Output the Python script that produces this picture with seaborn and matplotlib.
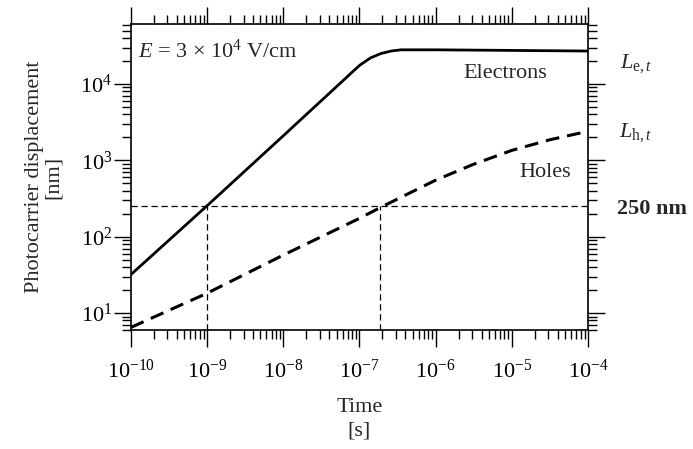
import numpy as np
import pandas as pd
import matplotlib
matplotlib.use("Agg")
import matplotlib.pyplot as plt
from matplotlib.ticker import LogLocator, NullFormatter
import seaborn as sns

# ---- data ----
e_time = [1e-10, 1e-9, 1e-8, 1e-7, 1.4e-7, 1.9e-7, 2.6e-7, 3.5e-7, 1e-6, 1e-5, 1e-4]
e_disp = [32, 255, 2100, 17500, 22000, 25000, 27000, 28000, 28000, 27500, 27000]

h_time = [1e-10, 1e-9, 1e-8, 1e-7, 1.86e-7, 1e-6, 3.16e-6, 1e-5, 3.16e-5, 1e-4]
h_disp = [6.5, 18.2, 57.5, 174, 240, 550, 890, 1350, 1860, 2400]

ref_disp = 250
ref_times = [1e-9, 1.85e-7]

xticks = [1e-10, 1e-9, 1e-8, 1e-7, 1e-6, 1e-5, 1e-4]
yticks = [1e1, 1e2, 1e3, 1e4]

sns.set_theme(style="ticks")
plt.rcParams["font.family"] = ["Liberation Serif", "DejaVu Serif"]
plt.rcParams["mathtext.fontset"] = "custom"
plt.rcParams["mathtext.rm"] = "Liberation Serif"
plt.rcParams["mathtext.it"] = "Liberation Serif:italic"
plt.rcParams["mathtext.bf"] = "Liberation Serif:bold"

W, H = 693, 449
fig = plt.figure(figsize=(W / 100, H / 100), dpi=100)
ax = fig.add_axes([131 / W, 1 - 330 / H, (588 - 131) / W, (330 - 24) / H])

df_e = pd.DataFrame({"t": e_time, "d": e_disp})
df_h = pd.DataFrame({"t": h_time, "d": h_disp})

sns.lineplot(data=df_e, x="t", y="d", ax=ax, color="black", linewidth=2.0,
             estimator=None, sort=True)
sns.lineplot(data=df_h, x="t", y="d", ax=ax, color="black", linewidth=2.2,
             estimator=None, sort=True, linestyle=(0, (4.5, 2.6)))

ax.set_xscale("log")
ax.set_yscale("log")
ax.set_xlim(1e-10, 1e-4)
ax.set_ylim(6.0, 6.1e4)

# reference lines
ax.hlines(ref_disp, 1e-10, 1e-4, colors="black", linewidth=0.9,
          linestyles=(0, (5, 3)))
ax.vlines(ref_times, 6.0, ref_disp, colors="black", linewidth=0.9,
          linestyles=(0, (5, 3)))

ax.set_xticks(xticks)
ax.set_yticks(yticks)
ax.xaxis.set_minor_locator(LogLocator(base=10, subs=np.arange(2, 10), numticks=100))
ax.yaxis.set_minor_locator(LogLocator(base=10, subs=np.arange(2, 10), numticks=100))
ax.xaxis.set_minor_formatter(NullFormatter())
ax.yaxis.set_minor_formatter(NullFormatter())
ax.tick_params(which="both", direction="out", top=True, right=True,
               labeltop=False, labelright=False, colors="black",
               labelsize=16, width=1.0)
ax.tick_params(which="major", length=12)
ax.tick_params(which="minor", length=6.5)
ax.tick_params(axis="x", which="major", pad=9)
ax.tick_params(axis="y", which="major", pad=1.5)
for s in ax.spines.values():
    s.set_linewidth(1.2)
    s.set_color("black")

ax.set_xlabel("Time\n[s]", fontsize=16, linespacing=1.3)
ax.xaxis.set_label_coords(0.5, -(398 - 330) / 306)
ax.xaxis.label.set_va("top")
ax.set_ylabel("Photocarrier displacement\n[nm]", fontsize=16, linespacing=1.0)
ax.yaxis.set_label_coords(-(131 - 63) / 457, 0.5)

def fx(px):
    return px / W

def fy(py):
    return 1 - py / H

fig.text(fx(138), fy(51), r"$E$ = 3 × 10$^4$ V/cm", fontsize=16,
         ha="left", va="center")
fig.text(fx(505), fy(74), "Electrons", fontsize=16, ha="center", va="center")
fig.text(fx(545), fy(172), "Holes", fontsize=16, ha="center", va="center")
fig.text(fx(636), fy(64), r"$L_{\mathrm{e},t}$", fontsize=16, ha="center", va="center")
fig.text(fx(636), fy(133), r"$L_{\mathrm{h},t}$", fontsize=16, ha="center", va="center")
fig.text(fx(652), fy(209), "250 nm", fontsize=16, fontweight="bold",
         ha="center", va="center")

fig.savefig("out.png", dpi=100, facecolor="white")
